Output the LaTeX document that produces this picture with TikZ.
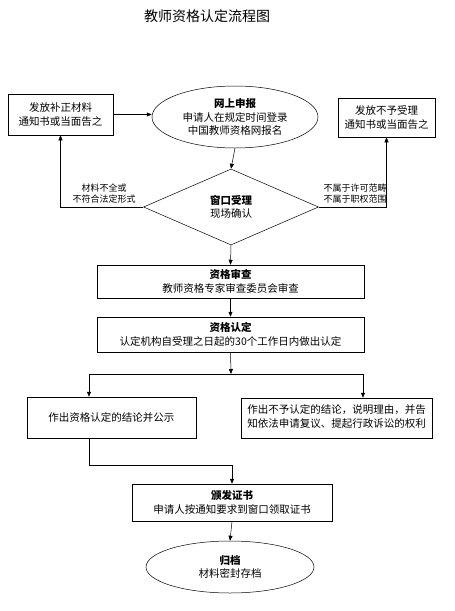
\documentclass[tikz,border=0pt]{standalone}
\usepackage{fontspec}
\setmainfont{Noto Sans CJK SC}
\usetikzlibrary{shapes.geometric,arrows.meta}
\begin{document}
\begin{tikzpicture}[x=1pt,y=-1pt,line width=0.5pt,>={Triangle[length=5pt,width=4pt]},
    txt/.style={font=\fontsize{10.5}{13.5}\selectfont,align=center,inner sep=0pt},
    box/.style={txt,draw,rectangle},
    oval/.style={txt,draw,ellipse},
    note/.style={font=\fontsize{9}{10.5}\selectfont,align=center,inner sep=0pt}]
        \useasboundingbox (0,0) rectangle (455,611);
        %% Title
        \node[inner sep=0pt,font=\fontsize{14}{16}\selectfont] (title) at (207,16) {教师资格认定流程图};
        %% Online application and its two side boxes
        \node[oval,minimum width=166,minimum height=62] (apply) at (235,117) {\textbf{网上申报}\\申请人在规定时间登录\\中国教师资格网报名};
        \node[box,minimum width=105,minimum height=41] (fix) at (60.5,114.5) {发放补正材料\\通知书或当面告之};
        \node[box,minimum width=97,minimum height=39] (deny) at (386.5,117.5) {发放不予受理\\通知书或当面告之};
        %% Window acceptance
        \node[txt,draw,diamond,minimum width=175,minimum height=76,aspect=2.3] (accept) at (231,207) {\textbf{窗口受理}\\现场确认};
        \node[note] (lack) at (104,193.5) {材料不全或\\不符合法定形式};
        \node[note] (outside) at (355,193.5) {不属于许可范畴\\不属于职权范围};
        %% Review and decision
        \node[box,minimum width=267,minimum height=33] (review) at (230.5,281.5) {\textbf{资格审查}\\教师资格专家审查委员会审查};
        \node[box,minimum width=267,minimum height=35] (decide) at (230.5,334.5) {\textbf{资格认定}\\认定机构自受理之日起的30个工作日内做出认定};
        \node[box,minimum width=169,minimum height=41] (pass) at (111.5,417.5) {作出资格认定的结论并公示};
        \node[box,minimum width=191,minimum height=40] (fail) at (336.5,418) {\begin{tabular}{@{}l@{}}作出不予认定的结论，说明理由，并告\\知依法申请复议、提起行政诉讼的权利\end{tabular}};
        %% Certificate and archive
        \node[box,minimum width=200,minimum height=37] (issue) at (232,502.5) {\textbf{颁发证书}\\申请人按通知要求到窗口领取证书};
        \node[oval,minimum width=168,minimum height=52] (archive) at (230,567) {\textbf{归档}\\材料密封存档};
        \coordinate (split) at (231,374);
        \coordinate (join) at (232,465);
        %% Connectors
        \draw[->] (fix.east) -- (fix.east -| apply.west);
        \draw[->] (apply.south) -- (accept.north);
        \draw[->] (accept.west) -| (fix.south);
        \draw[->] (accept.east) -| (deny.south);
        \draw[->] (accept.south) -- (review.north);
        \draw[->] (review.south) -- (decide.north);
        \draw[->] (decide.south) -- (split);
        \draw[->] (split) -| ([xshift=-22.5pt]pass.north);
        \draw[->] (split) -| ([xshift=26.5pt]fail.north);
        \draw[->] ([xshift=-22.5pt]pass.south) |- (join) -- (issue.north);
        \draw[->] (issue.south) -- (archive.north);
    \end{tikzpicture}
\end{document}
